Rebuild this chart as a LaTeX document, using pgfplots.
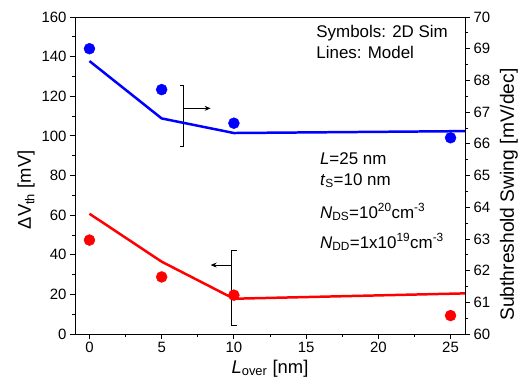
\documentclass[border=0pt]{standalone}
\usepackage{fontspec}
\setmainfont{Liberation Sans}
\usepackage{pgfplots}
\pgfplotsset{compat=1.18}
\usetikzlibrary{arrows.meta}
\begin{document}
\begin{tikzpicture}
\pgfplotsset{
  every axis/.append style={
    scale only axis, width=390bp, height=317bp,
    xmin=-1, xmax=26,
    tick align=outside,
    /pgf/number format/assume math mode=true,
    tick label style={font=\fontsize{15}{17}\selectfont},
    label style={font=\fontsize{18.5}{21}\selectfont},
    major tick length=5bp, minor tick length=3bp,
    every tick/.style={black, line width=0.8pt},
    axis line style={line width=0.8pt},
  }
}
\begin{axis}[name=ax1,
  ymin=0, ymax=160, ytick={0,20,...,160}, minor y tick num=1,
  xtick={0,5,...,25}, minor x tick num=1,
  xtick pos=left, ytick pos=left,
  xlabel={\textit{L}\textsubscript{over} [nm]},
  ylabel={ΔV\textsubscript{th} [mV]},
  ylabel style={at={(ticklabel cs:0.455)}},
]
\addplot[red, line width=2.5pt, mark=none] coordinates {(0,60.7)(5,36.5)(10,17.8)(26,20.5)};
\addplot[red, only marks, mark=*, mark size=5.5bp, mark options={fill=red, draw=red}] coordinates {(0,47.4)(5,28.8)(10,19.6)(25,9.3)};
% annotations
\draw[line width=1pt] (axis cs:6.27,125.2) -- (axis cs:6.5,125.2) -- (axis cs:6.5,94.4) -- (axis cs:6.27,94.4);
\draw[line width=1pt, -{Stealth[length=6bp,width=5bp]}] (axis cs:6.5,113.9) -- (axis cs:8.39,113.9);
\draw[line width=1pt] (axis cs:10.23,42.0) -- (axis cs:9.84,42.0) -- (axis cs:9.84,4.2) -- (axis cs:10.23,4.2);
\draw[line width=1pt, -{Stealth[length=6bp,width=5bp]}] (axis cs:9.84,34.8) -- (axis cs:8.39,34.8);
\begin{scope}[every node/.style={anchor=base west, inner sep=0pt, font=\fontsize{17}{20}\selectfont}]
\node at (axis cs:15.7,149.9) {Symbols: 2D Sim};
\node at (axis cs:15.7,139.3) {Lines: Model};
\node at (axis cs:15.95,85.8) {\textit{L}=25 nm};
\node at (axis cs:15.95,75.2) {\textit{t}\textsubscript{S}=10 nm};
\node at (axis cs:15.95,58.5) {\textit{N}\textsubscript{DS}=10\textsuperscript{20}cm\textsuperscript{-3}};
\node at (axis cs:15.95,43.4) {\textit{N}\textsubscript{DD}=1x10\textsuperscript{19}cm\textsuperscript{-3}};
\end{scope}
\end{axis}
\begin{axis}[name=ax2,
  ymin=60, ymax=70, ytick={60,61,...,70}, minor y tick num=1,
  axis x line=none, axis y line*=right,
  ylabel={Subthreshold Swing [mV/dec]},
  ylabel shift=3bp,
  ylabel style={at={(ticklabel cs:0.44)}, font=\fontsize{19.3}{22}\selectfont},
]
\addplot[blue, line width=2.5pt, mark=none] coordinates {(0,68.61)(5,66.80)(10,66.34)(26,66.40)};
\addplot[blue, only marks, mark=*, mark size=5.5bp, mark options={fill=blue, draw=blue}] coordinates {(0,69.0)(5,67.71)(10,66.65)(25,66.19)};
\end{axis}
\pgfresetboundingbox
\path (ax1.south west) ++(-75bp,-52bp) rectangle ++(524bp,386bp);
\end{tikzpicture}
\end{document}
